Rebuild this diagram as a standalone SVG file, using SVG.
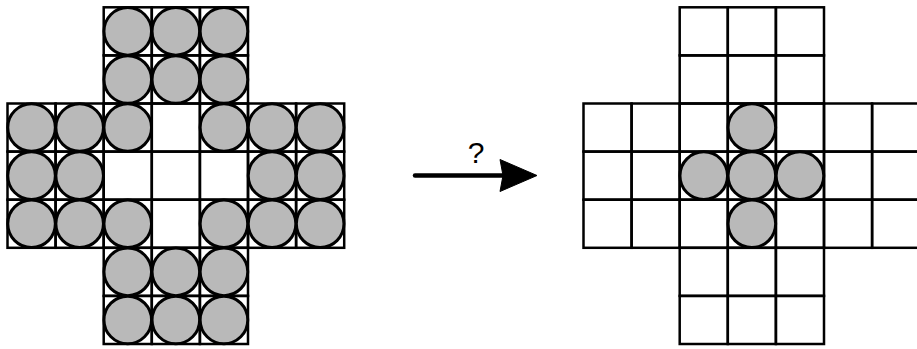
<svg xmlns="http://www.w3.org/2000/svg" width="917" height="349" viewBox="0 0 917 349">
<defs>
<pattern id="hatch" width="2" height="4" patternUnits="userSpaceOnUse">
<rect width="2" height="4" fill="#c9c9c9"/>
<rect width="1" height="4" fill="#a9a9a9"/>
</pattern>
</defs>
<style>
.g{fill:none;stroke:#000;stroke-width:2.5}
.p{fill:url(#hatch);stroke:#000;stroke-width:3}
.lbl{font-family:"Liberation Sans",Arial,sans-serif;font-size:30px;fill:#000}
</style>
<rect width="917" height="349" fill="#fff"/>
<g id="board-start" transform="translate(7.5,7.3)">
<g class="grid">
<rect class="g" x="96.2" y="0" width="48.1" height="48.1"/><rect class="g" x="144.3" y="0" width="48.1" height="48.1"/><rect class="g" x="192.4" y="0" width="48.1" height="48.1"/>
<rect class="g" x="96.2" y="48.1" width="48.1" height="48.1"/><rect class="g" x="144.3" y="48.1" width="48.1" height="48.1"/><rect class="g" x="192.4" y="48.1" width="48.1" height="48.1"/>
<rect class="g" x="0" y="96.2" width="48.1" height="48.1"/><rect class="g" x="48.1" y="96.2" width="48.1" height="48.1"/><rect class="g" x="96.2" y="96.2" width="48.1" height="48.1"/><rect class="g" x="144.3" y="96.2" width="48.1" height="48.1"/><rect class="g" x="192.4" y="96.2" width="48.1" height="48.1"/><rect class="g" x="240.5" y="96.2" width="48.1" height="48.1"/><rect class="g" x="288.6" y="96.2" width="48.1" height="48.1"/>
<rect class="g" x="0" y="144.3" width="48.1" height="48.1"/><rect class="g" x="48.1" y="144.3" width="48.1" height="48.1"/><rect class="g" x="96.2" y="144.3" width="48.1" height="48.1"/><rect class="g" x="144.3" y="144.3" width="48.1" height="48.1"/><rect class="g" x="192.4" y="144.3" width="48.1" height="48.1"/><rect class="g" x="240.5" y="144.3" width="48.1" height="48.1"/><rect class="g" x="288.6" y="144.3" width="48.1" height="48.1"/>
<rect class="g" x="0" y="192.4" width="48.1" height="48.1"/><rect class="g" x="48.1" y="192.4" width="48.1" height="48.1"/><rect class="g" x="96.2" y="192.4" width="48.1" height="48.1"/><rect class="g" x="144.3" y="192.4" width="48.1" height="48.1"/><rect class="g" x="192.4" y="192.4" width="48.1" height="48.1"/><rect class="g" x="240.5" y="192.4" width="48.1" height="48.1"/><rect class="g" x="288.6" y="192.4" width="48.1" height="48.1"/>
<rect class="g" x="96.2" y="240.5" width="48.1" height="48.1"/><rect class="g" x="144.3" y="240.5" width="48.1" height="48.1"/><rect class="g" x="192.4" y="240.5" width="48.1" height="48.1"/>
<rect class="g" x="96.2" y="288.6" width="48.1" height="48.1"/><rect class="g" x="144.3" y="288.6" width="48.1" height="48.1"/><rect class="g" x="192.4" y="288.6" width="48.1" height="48.1"/>
</g>
<g class="pegs">
<circle class="p" cx="120.25" cy="24.05" r="23.8"/><circle class="p" cx="168.35" cy="24.05" r="23.8"/><circle class="p" cx="216.45" cy="24.05" r="23.8"/>
<circle class="p" cx="120.25" cy="72.15" r="23.8"/><circle class="p" cx="168.35" cy="72.15" r="23.8"/><circle class="p" cx="216.45" cy="72.15" r="23.8"/>
<circle class="p" cx="24.05" cy="120.25" r="23.8"/><circle class="p" cx="72.15" cy="120.25" r="23.8"/><circle class="p" cx="120.25" cy="120.25" r="23.8"/><circle class="p" cx="216.45" cy="120.25" r="23.8"/><circle class="p" cx="264.55" cy="120.25" r="23.8"/><circle class="p" cx="312.65" cy="120.25" r="23.8"/>
<circle class="p" cx="24.05" cy="168.35" r="23.8"/><circle class="p" cx="72.15" cy="168.35" r="23.8"/><circle class="p" cx="264.55" cy="168.35" r="23.8"/><circle class="p" cx="312.65" cy="168.35" r="23.8"/>
<circle class="p" cx="24.05" cy="216.45" r="23.8"/><circle class="p" cx="72.15" cy="216.45" r="23.8"/><circle class="p" cx="120.25" cy="216.45" r="23.8"/><circle class="p" cx="216.45" cy="216.45" r="23.8"/><circle class="p" cx="264.55" cy="216.45" r="23.8"/><circle class="p" cx="312.65" cy="216.45" r="23.8"/>
<circle class="p" cx="120.25" cy="264.55" r="23.8"/><circle class="p" cx="168.35" cy="264.55" r="23.8"/><circle class="p" cx="216.45" cy="264.55" r="23.8"/>
<circle class="p" cx="120.25" cy="312.65" r="23.8"/><circle class="p" cx="168.35" cy="312.65" r="23.8"/><circle class="p" cx="216.45" cy="312.65" r="23.8"/>
</g>
</g>
<g id="board-goal" transform="translate(583.5,7.3)">
<g class="grid">
<rect class="g" x="96.2" y="0" width="48.1" height="48.1"/><rect class="g" x="144.3" y="0" width="48.1" height="48.1"/><rect class="g" x="192.4" y="0" width="48.1" height="48.1"/>
<rect class="g" x="96.2" y="48.1" width="48.1" height="48.1"/><rect class="g" x="144.3" y="48.1" width="48.1" height="48.1"/><rect class="g" x="192.4" y="48.1" width="48.1" height="48.1"/>
<rect class="g" x="0" y="96.2" width="48.1" height="48.1"/><rect class="g" x="48.1" y="96.2" width="48.1" height="48.1"/><rect class="g" x="96.2" y="96.2" width="48.1" height="48.1"/><rect class="g" x="144.3" y="96.2" width="48.1" height="48.1"/><rect class="g" x="192.4" y="96.2" width="48.1" height="48.1"/><rect class="g" x="240.5" y="96.2" width="48.1" height="48.1"/><rect class="g" x="288.6" y="96.2" width="48.1" height="48.1"/>
<rect class="g" x="0" y="144.3" width="48.1" height="48.1"/><rect class="g" x="48.1" y="144.3" width="48.1" height="48.1"/><rect class="g" x="96.2" y="144.3" width="48.1" height="48.1"/><rect class="g" x="144.3" y="144.3" width="48.1" height="48.1"/><rect class="g" x="192.4" y="144.3" width="48.1" height="48.1"/><rect class="g" x="240.5" y="144.3" width="48.1" height="48.1"/><rect class="g" x="288.6" y="144.3" width="48.1" height="48.1"/>
<rect class="g" x="0" y="192.4" width="48.1" height="48.1"/><rect class="g" x="48.1" y="192.4" width="48.1" height="48.1"/><rect class="g" x="96.2" y="192.4" width="48.1" height="48.1"/><rect class="g" x="144.3" y="192.4" width="48.1" height="48.1"/><rect class="g" x="192.4" y="192.4" width="48.1" height="48.1"/><rect class="g" x="240.5" y="192.4" width="48.1" height="48.1"/><rect class="g" x="288.6" y="192.4" width="48.1" height="48.1"/>
<rect class="g" x="96.2" y="240.5" width="48.1" height="48.1"/><rect class="g" x="144.3" y="240.5" width="48.1" height="48.1"/><rect class="g" x="192.4" y="240.5" width="48.1" height="48.1"/>
<rect class="g" x="96.2" y="288.6" width="48.1" height="48.1"/><rect class="g" x="144.3" y="288.6" width="48.1" height="48.1"/><rect class="g" x="192.4" y="288.6" width="48.1" height="48.1"/>
</g>
<g class="pegs">
<circle class="p" cx="168.35" cy="120.25" r="23.8"/>
<circle class="p" cx="120.25" cy="168.35" r="23.8"/><circle class="p" cx="168.35" cy="168.35" r="23.8"/><circle class="p" cx="216.45" cy="168.35" r="23.8"/>
<circle class="p" cx="168.35" cy="216.45" r="23.8"/>
</g>
</g>
<g id="connectors">
<line x1="415" y1="175.5" x2="506" y2="175.5" stroke="#000" stroke-width="4.5" stroke-linecap="round"/>
<polygon points="500,159.5 537,175.5 500,191.5 503,175.5" fill="#000" stroke="#000" stroke-width="1" stroke-linejoin="round"/>
<text class="lbl" x="476" y="163" text-anchor="middle">?</text>
</g>
</svg>
